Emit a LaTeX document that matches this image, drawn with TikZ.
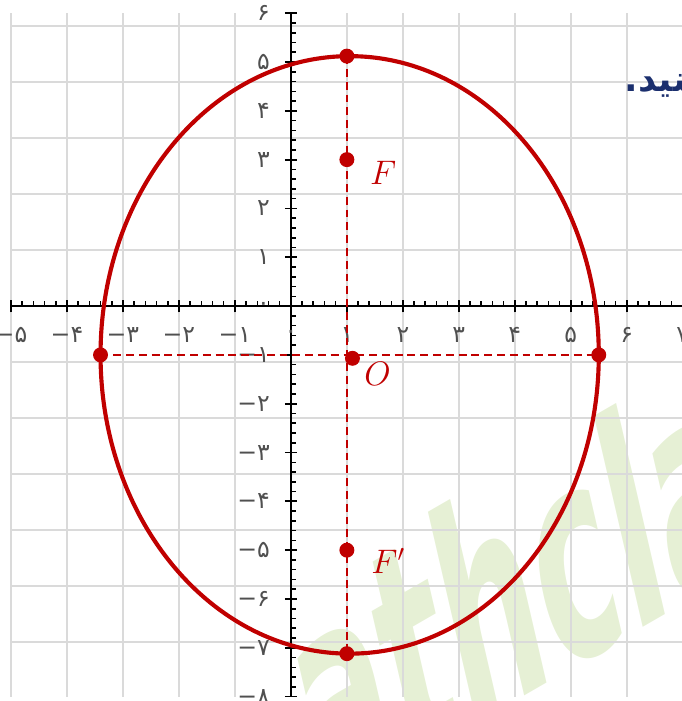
\documentclass[tikz,border=0pt]{standalone}
\usepackage{amsmath}
\usepackage{fontspec}
\usepackage{xcolor}
\TeXXeTstate=1
\newfontfamily\persianfont[Script=Arabic]{DejaVu Sans}
\newfontfamily\digitfont{DejaVu Sans}
\newfontfamily\markfont{DejaVu Sans}
\definecolor{ellipsered}{HTML}{C00000}
\definecolor{gridgray}{HTML}{DADADA}
\definecolor{digitgray}{HTML}{505050}
\definecolor{titlenavy}{HTML}{1B2F6E}
\definecolor{markgreen}{HTML}{E6F0D5}

\begin{document}
\begin{tikzpicture}[
  x=1cm,
  y=0.872cm,
  every node/.style={font=\normalsize},
  ticklabel/.style={digitgray, inner sep=0pt, font=\digitfont\fontsize{12}{14}\selectfont},
  pointlabel/.style={ellipsered, font=\LARGE}
]
  \useasboundingbox (-5.196,-8.09) rectangle (6.98,6.27);

  \begin{scope}[shift={(0.52,-10.4)}, cm={0.445,0.257,-0.225,0.974,(0,0)}]
    \node[markgreen, transform shape, anchor=base west, inner sep=0pt,
      font=\markfont\bfseries\fontsize{145}{145}\selectfont] (mark) at (0,0) {athcla};
  \end{scope}

  \draw[gridgray, line width=1pt] (-5,-8) grid (7,6);

  \draw[black, line width=1.2pt] (-5,0) -- (7,0);
  \draw[black, line width=1.2pt] (0,-8) -- (0,6);
  \foreach \k in {0,...,60}
    \draw[black, line width=0.8pt] ({-5+0.2*\k},0) -- ++(0,2.5pt);
  \foreach \x in {-5,...,7}
    \draw[black, line width=0.9pt] (\x,0) ++(0,-3.2pt) -- ++(0,6.4pt);
  \foreach \k in {0,...,70}
    \draw[black, line width=0.8pt] (0,{-8+0.2*\k}) -- ++(2.8pt,0);
  \foreach \y in {-8,...,6}
    \draw[black, line width=0.9pt] (0,\y) ++(-3pt,0) -- ++(6pt,0);

  \foreach \v/\t in {-5/−۵,-4/−۴,-3/−۳,-2/−۲,-1/−۱,0/۰,1/۱,2/۲,3/۳,4/۴,5/۵,6/۶,7/۷}
    \node[ticklabel] (xl\v) at (\v,-0.59) {\t};
  \foreach \v/\t in {-8/−۸,-7/−۷,-6/−۶,-5/−۵,-4/−۴,-3/−۳,-2/−۲,-1/−۱,0/۰,1/۱,2/۲,3/۳,4/۴,5/۵,6/۶}
    \node[ticklabel, anchor=east] (yl\v) at (-0.37,\v) {\t};

  \draw[ellipsered, line width=2.1pt] (1.05,-1) ellipse [x radius=4.45, y radius=6.12];

  \coordinate (vtop) at (1,5.12);
  \coordinate (vbot) at (1,-7.12);
  \coordinate (vleft) at (-3.4,-1);
  \coordinate (vright) at (5.5,-1);
  \coordinate (focusF) at (1,3);
  \coordinate (focusG) at (1,-5);
  \coordinate (centre) at (1.1,-1.07);

  \draw[ellipsered, line width=1.1pt, dash pattern=on 4pt off 2.5pt] (vleft) -- (vright);
  \draw[ellipsered, line width=1.1pt, dash pattern=on 4pt off 2.5pt] (vtop) -- (vbot);

  \foreach \p in {vtop,vbot,vleft,vright,focusF,focusG,centre}
    \fill[ellipsered] (\p) circle (3.8pt);

  \node[pointlabel] (labF) at (1.65,2.72) {$F$};
  \node[pointlabel] (labG) at (1.74,-5.22) {$F'$};
  \node[pointlabel] (labO) at (1.55,-1.38) {$O$};

  \node[titlenavy, anchor=base west, inner sep=0pt,
    font=\persianfont\bfseries\fontsize{18}{21}\selectfont] (title) at (5.96,4.39) {\beginR کنید.\endR};
\end{tikzpicture}
\end{document}
